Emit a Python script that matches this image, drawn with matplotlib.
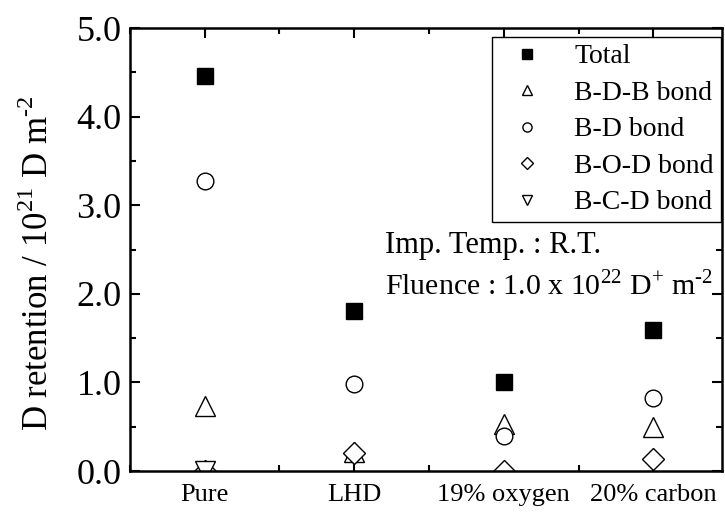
import matplotlib.pyplot as plt
from matplotlib.ticker import MultipleLocator

plt.rcParams['font.family'] = ['Liberation Serif', 'DejaVu Serif']
plt.rcParams['mathtext.fontset'] = 'custom'
plt.rcParams['mathtext.rm'] = 'Liberation Serif'

samples = ['Pure', 'LHD', '19% oxygen', '20% carbon']
x = [1, 2, 3, 4]
total = [4.46, 1.81, 1.00, 1.59]
bdb = [0.73, 0.22, 0.53, 0.50]
bd = [3.27, 0.98, 0.40, 0.82]
bod = [0.0, 0.20, 0.0, 0.14]
bcd_x = [1]
bcd = [0.0]

fig = plt.figure(figsize=(7.25, 5.16), dpi=100)
ax = fig.add_axes([0.1793, 0.0872, 0.8166, 0.8585])

ms = 12
ax.plot(x, total, 's', color='black', ms=ms, label='Total')
ax.plot(x, bdb, '^', mfc='white', mec='black', mew=1, ms=ms + 2, label='B-D-B bond')
ax.plot(x, bd, 'o', mfc='white', mec='black', mew=1, ms=ms, label='B-D bond')
ax.plot(x, bod, 'D', mfc='white', mec='black', mew=1, ms=ms - 1, label='B-O-D bond')
ax.plot(bcd_x, bcd, 'v', mfc='white', mec='black', mew=1, ms=ms + 2, label='B-C-D bond')

ax.set_xlim(0.5, 4.46)
ax.set_ylim(0, 5)
ax.set_xticks(x)
ax.set_xticklabels(samples, fontsize=19)
ax.xaxis.set_minor_locator(MultipleLocator(0.5))
ax.yaxis.set_minor_locator(MultipleLocator(0.5))
ax.set_yticks([0, 1, 2, 3, 4, 5])
ax.set_yticklabels(['0.0', '1.0', '2.0', '3.0', '4.0', '5.0'], fontsize=26)
ax.tick_params(which='both', direction='in', top=True, right=True, width=1.5)
ax.tick_params(which='major', length=7)
ax.tick_params(which='minor', length=4)
ax.tick_params(axis='x', pad=9)
ax.tick_params(axis='y', pad=6)
for s in ax.spines.values():
    s.set_linewidth(1.8)

ax.set_ylabel('D retention / 10$^{21}$ D m$^{\u2010 2}$', fontsize=25)
ax.yaxis.set_label_coords(-0.125, 0.47)

ax.text(0.43, 0.508, 'Imp. Temp. : R.T.', transform=ax.transAxes, fontsize=22,
        va='center', ha='left')
ax.text(0.43, 0.418, 'Fluence : 1.0 x 10$^{22}$ D$^{+}$ m$^{\u2010 2}$', transform=ax.transAxes,
        fontsize=21.5, va='center', ha='left')

leg = ax.legend(loc='upper right', bbox_to_anchor=(0.998, 0.98), borderaxespad=0,
                fontsize=20, markerscale=0.55, fancybox=False, edgecolor='black',
                framealpha=1, labelspacing=0.4, handletextpad=0.7, borderpad=0.25,
                handlelength=2.0)
leg.get_frame().set_linewidth(1)

fig.savefig('out.png', dpi=100)
